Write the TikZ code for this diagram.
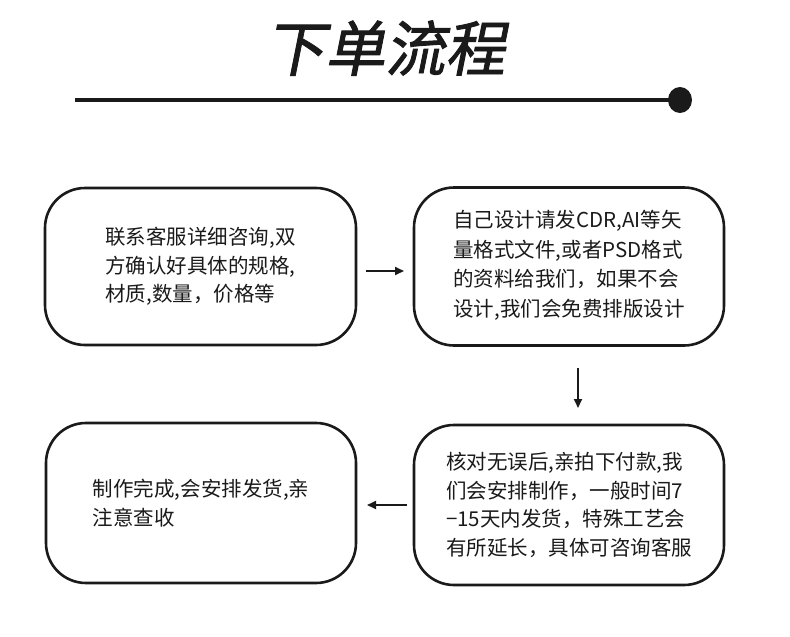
\documentclass[tikz,border=0pt]{standalone}
\usepackage{fontspec}
\setmainfont{Noto Sans CJK SC}
\newfontfamily\titlefont[FakeSlant=0.2,FakeBold=1.5]{Noto Sans CJK SC}
\usetikzlibrary{arrows.meta,shapes.geometric}
\definecolor{ink}{HTML}{1A1A1A}
\tikzset{
  flowbox/.style={draw=ink, line width=2.6pt, rounded corners=40pt,
    minimum width=310pt, minimum height=158pt, align=left, text=ink,
    font=\fontsize{20.5pt}{28.5pt}\selectfont, inner sep=0pt},
  flowarrow/.style={draw=ink, line width=1.8pt, -{Triangle[length=9pt,width=8pt]}}
}
\begin{document}
\begin{tikzpicture}[x=1pt,y=-1pt]
\useasboundingbox (0,0) rectangle (790,637);
\node[font=\titlefont\fontsize{60pt}{60pt}\selectfont, text=ink] (title) at (385,48) {下单流程};
\node[fill=ink, ellipse, minimum width=24pt, minimum height=26pt, inner sep=0pt] (dot) at (680,100) {};
\coordinate (lstart) at (75,100);
\draw[ink, line width=3.2pt] (lstart) -- (dot.center);

\node[flowbox, minimum width=311pt, minimum height=157pt] (b1) at (200.5,266.5)
  {联系客服详细咨询,双\\方确认好具体的规格,\\材质,数量，价格等};
\node[flowbox, font=\fontsize{20.5pt}{29.5pt}\selectfont, text depth=6pt] (b2) at (569,266.5)
  {自己设计请发CDR,AI等矢\\量格式文件,或者PSD格式\\的资料给我们，如果不会\\设计,我们会免费排版设计};
\node[flowbox, minimum height=160pt] (b4) at (569,505)
  {核对无误后,亲拍下付款,我\\们会安排制作，一般时间7\\−15天内发货，特殊工艺会\\有所延长，具体可咨询客服};
\node[flowbox, minimum height=160pt] (b3) at (201,503)
  {制作完成,会安排发货,亲\\注意查收};

\coordinate (a1s) at (366,271);
\coordinate (a1e) at (404,271);
\coordinate (a2s) at (578,368);
\coordinate (a2e) at (578,408);
\coordinate (a3s) at (407,505);
\coordinate (a3e) at (367,505);
\draw[flowarrow] (a1s) -- (a1e);
\draw[flowarrow] (a2s) -- (a2e);
\draw[flowarrow] (a3s) -- (a3e);
\end{tikzpicture}
\end{document}
